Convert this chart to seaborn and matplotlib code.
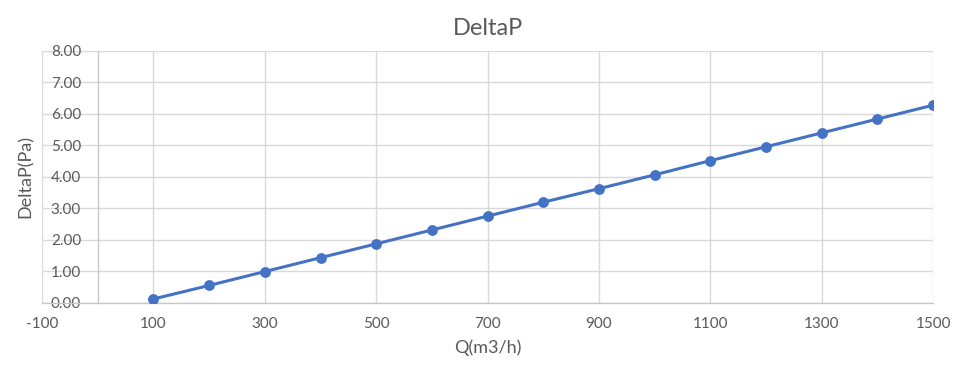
import numpy as np
import pandas as pd
import matplotlib
matplotlib.use('Agg')
import matplotlib.pyplot as plt
import seaborn as sns

# data
q_values = [100, 200, 300, 400, 500, 600, 700, 800, 900, 1000, 1100, 1200, 1300, 1400, 1500]
deltap_values = [0.12, 0.55, 0.99, 1.43, 1.87, 2.31, 2.75, 3.19, 3.62, 4.06, 4.51, 4.95, 5.39, 5.83, 6.27]
x_ticks = [-100, 100, 300, 500, 700, 900, 1100, 1300, 1500]
y_ticks = [0, 1, 2, 3, 4, 5, 6, 7, 8]

df = pd.DataFrame({'Q': q_values, 'DeltaP': deltap_values})

sns.set_style('white')
plt.rcParams['font.family'] = ['Lato', 'DejaVu Sans']
plt.rcParams['axes.unicode_minus'] = False

fig = plt.figure(figsize=(9.62, 3.67), dpi=100)
ax = fig.add_axes([0.0437, 0.175, 0.9263, 0.687])

grid_col = '#d9d9d9'
text_col = '#595959'

sns.lineplot(data=df, x='Q', y='DeltaP', ax=ax, color='#4472C4', linewidth=2.2,
             marker='o', markersize=7.8, markeredgewidth=0, zorder=3)

ax.set_xlim(-100, 1500)
ax.set_ylim(0, 8)
ax.set_xticks(x_ticks)
ax.set_yticks(y_ticks)
ax.set_yticklabels([f'{v:.2f}' for v in y_ticks])
ax.grid(True, color=grid_col, linewidth=1)
ax.set_axisbelow(True)

for s in ['top', 'right']:
    ax.spines[s].set_visible(False)
ax.spines['left'].set_position(('data', 0))
ax.spines['left'].set_color('#c8c8c8')
ax.spines['bottom'].set_color('#c8c8c8')
ax.spines['left'].set_linewidth(1)
ax.spines['bottom'].set_linewidth(1)

ax.tick_params(axis='both', length=0, labelsize=11, labelcolor=text_col)
ax.tick_params(axis='x', pad=10)
ax.tick_params(axis='y', pad=12)

ax.set_title('DeltaP', fontsize=17, color=text_col, pad=11)
ax.set_xlabel('Q(m3/h)', fontsize=13, color=text_col, labelpad=6)
ax.set_ylabel('DeltaP(Pa)', fontsize=13, color=text_col)
ax.yaxis.set_label_coords(-0.009, 0.5)

fig.savefig('out.png', dpi=100, facecolor='white')
